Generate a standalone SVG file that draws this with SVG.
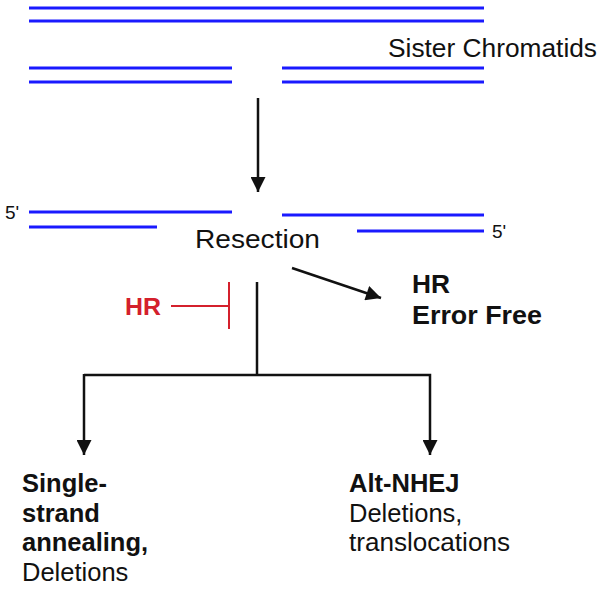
<svg xmlns="http://www.w3.org/2000/svg" width="600" height="590" viewBox="0 0 600 590">
<style>
.dna{stroke:#1a1aff;stroke-width:3;fill:none}
.ln{stroke:#111;stroke-width:2.5;fill:none}
.inh{stroke:#d4202c;stroke-width:2;fill:none}
text{font-family:"Liberation Sans",Arial,sans-serif;fill:#111}
.b{font-weight:bold}
</style>
<defs>
<marker id="ah" viewBox="0 0 10 10" refX="10" refY="5" markerWidth="6.4" markerHeight="6" markerUnits="strokeWidth" orient="auto">
<path d="M0,0 L10,5 L0,10 z" fill="#111"/>
</marker>
</defs>
<rect width="600" height="590" fill="#fff"/>
<g id="sister-chromatids">
<line class="dna" x1="29" y1="8" x2="484" y2="8"/>
<line class="dna" x1="29" y1="21" x2="484" y2="21"/>
<line class="dna" x1="29" y1="68" x2="232" y2="68"/>
<line class="dna" x1="29" y1="82" x2="232" y2="82"/>
<line class="dna" x1="282" y1="68" x2="484" y2="68"/>
<line class="dna" x1="282" y1="82" x2="484" y2="82"/>
<text x="388" y="57" font-size="25" textLength="209" lengthAdjust="spacingAndGlyphs">Sister Chromatids</text>
</g>
<g id="resection">
<text x="5" y="219" font-size="19">5'</text>
<line class="dna" x1="29" y1="212" x2="232" y2="212"/>
<line class="dna" x1="29" y1="227" x2="157" y2="227"/>
<line class="dna" x1="282" y1="215" x2="484" y2="215"/>
<line class="dna" x1="357" y1="231" x2="484" y2="231"/>
<text x="492" y="238" font-size="19">5'</text>
<text x="195" y="248" font-size="26" textLength="125" lengthAdjust="spacingAndGlyphs">Resection</text>
</g>
<g id="hr-inhibitor">
<text x="125" y="315" font-size="23" class="b" style="fill:#d4202c" textLength="36" lengthAdjust="spacingAndGlyphs">HR</text>
</g>
<g id="hr-error-free">
<text x="412" y="293" font-size="26" class="b" textLength="38" lengthAdjust="spacingAndGlyphs">HR</text>
<text x="412" y="324" font-size="26" class="b" textLength="130" lengthAdjust="spacingAndGlyphs">Error Free</text>
</g>
<g id="ssa">
<text x="22" y="492" font-size="25.5" class="b">Single-</text>
<text x="22" y="522" font-size="25.5" class="b">strand</text>
<text x="22" y="551" font-size="25.5" class="b">annealing,</text>
<text x="22" y="581" font-size="25.5">Deletions</text>
</g>
<g id="alt-nhej">
<text x="349" y="492" font-size="25.5" class="b">Alt-NHEJ</text>
<text x="349" y="522" font-size="25.5">Deletions,</text>
<text x="349" y="551" font-size="25.5" textLength="161" lengthAdjust="spacingAndGlyphs">translocations</text>
</g>
<g id="connectors">
<line class="ln" x1="258" y1="98" x2="258" y2="192" marker-end="url(#ah)"/>
<line class="ln" x1="292" y1="268" x2="381" y2="298" marker-end="url(#ah)"/>
<line class="inh" x1="171" y1="306" x2="229" y2="306"/>
<line class="inh" x1="229" y1="282" x2="229" y2="329"/>
<line class="ln" x1="257" y1="282" x2="257" y2="375"/>
<polyline class="ln" points="84,375 430,375 430,455" marker-end="url(#ah)"/>
<line class="ln" x1="84" y1="374" x2="84" y2="455" marker-end="url(#ah)"/>
</g>
</svg>
